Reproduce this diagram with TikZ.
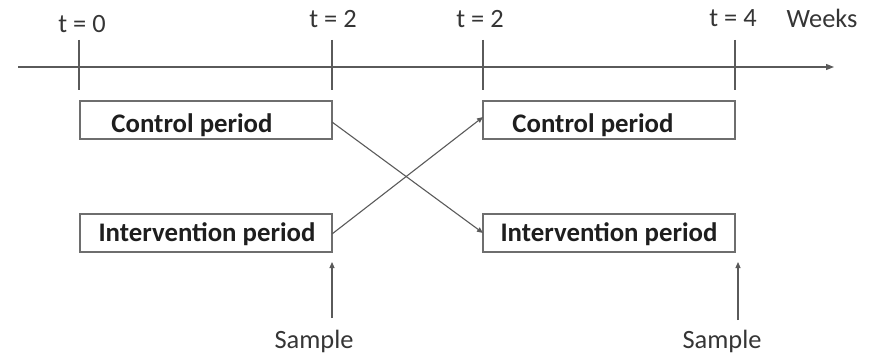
\documentclass[tikz,border=0pt]{standalone}
\usepackage{fontspec}
\setmainfont{Carlito}
\usetikzlibrary{arrows.meta}
\definecolor{linegray}{HTML}{5A5A5A}
\definecolor{boxgray}{HTML}{6E6E6E}
\definecolor{ink}{HTML}{1E1E1E}
\begin{document}
\begin{tikzpicture}[x=1pt,y=-1pt,
  axisline/.style={draw=linegray,line width=1.3pt},
  tick/.style={draw=linegray,line width=1.1pt},
  period/.style={draw=boxgray,line width=1.5pt,fill=white,minimum width=252pt,minimum height=38pt,inner sep=0pt,outer sep=0pt},
  periodlbl/.style={text=ink,inner sep=0pt,anchor=base,font=\fontsize{26.8}{30}\selectfont\bfseries},
  timelbl/.style={text=ink!90,inner sep=0pt,anchor=base,font=\fontsize{26.4}{30}\selectfont},
  link/.style={draw=linegray,line width=1.1pt,-{Triangle[length=6pt,width=5pt]}}
]
\useasboundingbox (0,0) rectangle (872,355);

% time axis
\coordinate (axstart) at (18,67);
\coordinate (axend) at (834,67);
\draw[axisline,-{Triangle[length=8pt,width=6pt]}] (axstart) -- (axend);

% ticks
\coordinate (tk0a) at (79,40);  \coordinate (tk0b) at (79,90);
\coordinate (tk1a) at (332,40); \coordinate (tk1b) at (332,90);
\coordinate (tk2a) at (483,40); \coordinate (tk2b) at (483,90);
\coordinate (tk3a) at (735,40); \coordinate (tk3b) at (735,90);
\draw[tick] (tk0a) -- (tk0b);
\draw[tick] (tk1a) -- (tk1b);
\draw[tick] (tk2a) -- (tk2b);
\draw[tick] (tk3a) -- (tk3b);

% tick labels
\node[timelbl] (t0) at (82,33) {t = 0};
\node[timelbl] (t1) at (333,28) {t = 2};
\node[timelbl] (t2) at (480,28) {t = 2};
\node[timelbl] (t3) at (733,27) {t = 4};
\node[timelbl] (wk) at (822,28) {Weeks};

% period boxes
\node[period] (ctrlA) at (206,120) {};
\node[period] (intA)  at (206,233) {};
\node[period] (ctrlB) at (609,120) {};
\node[period] (intB)  at (609,233) {};

\node[periodlbl] (ctrlAl) at (192,133) {Control period};
\node[periodlbl] (intAl)  at (207,242) {Intervention period};
\node[periodlbl] (ctrlBl) at (593,133) {Control period};
\node[periodlbl] (intBl)  at (609,242) {Intervention period};

% crossover
\draw[link] ([yshift=-2pt]ctrlA.east) -- ([yshift=0pt]intB.west);
\draw[link] ([yshift=-1pt]intA.east) -- ([yshift=3pt]ctrlB.west);

% sampling points
\node[timelbl] (smpA) at (314,348) {Sample};
\node[timelbl] (smpB) at (722,348) {Sample};
\coordinate (smpAtail) at (332,318);
\coordinate (smpBtail) at (738,320);
\draw[link] (smpAtail) -- (332,262);
\draw[link] (smpBtail) -- (738,262);
\end{tikzpicture}
\end{document}
